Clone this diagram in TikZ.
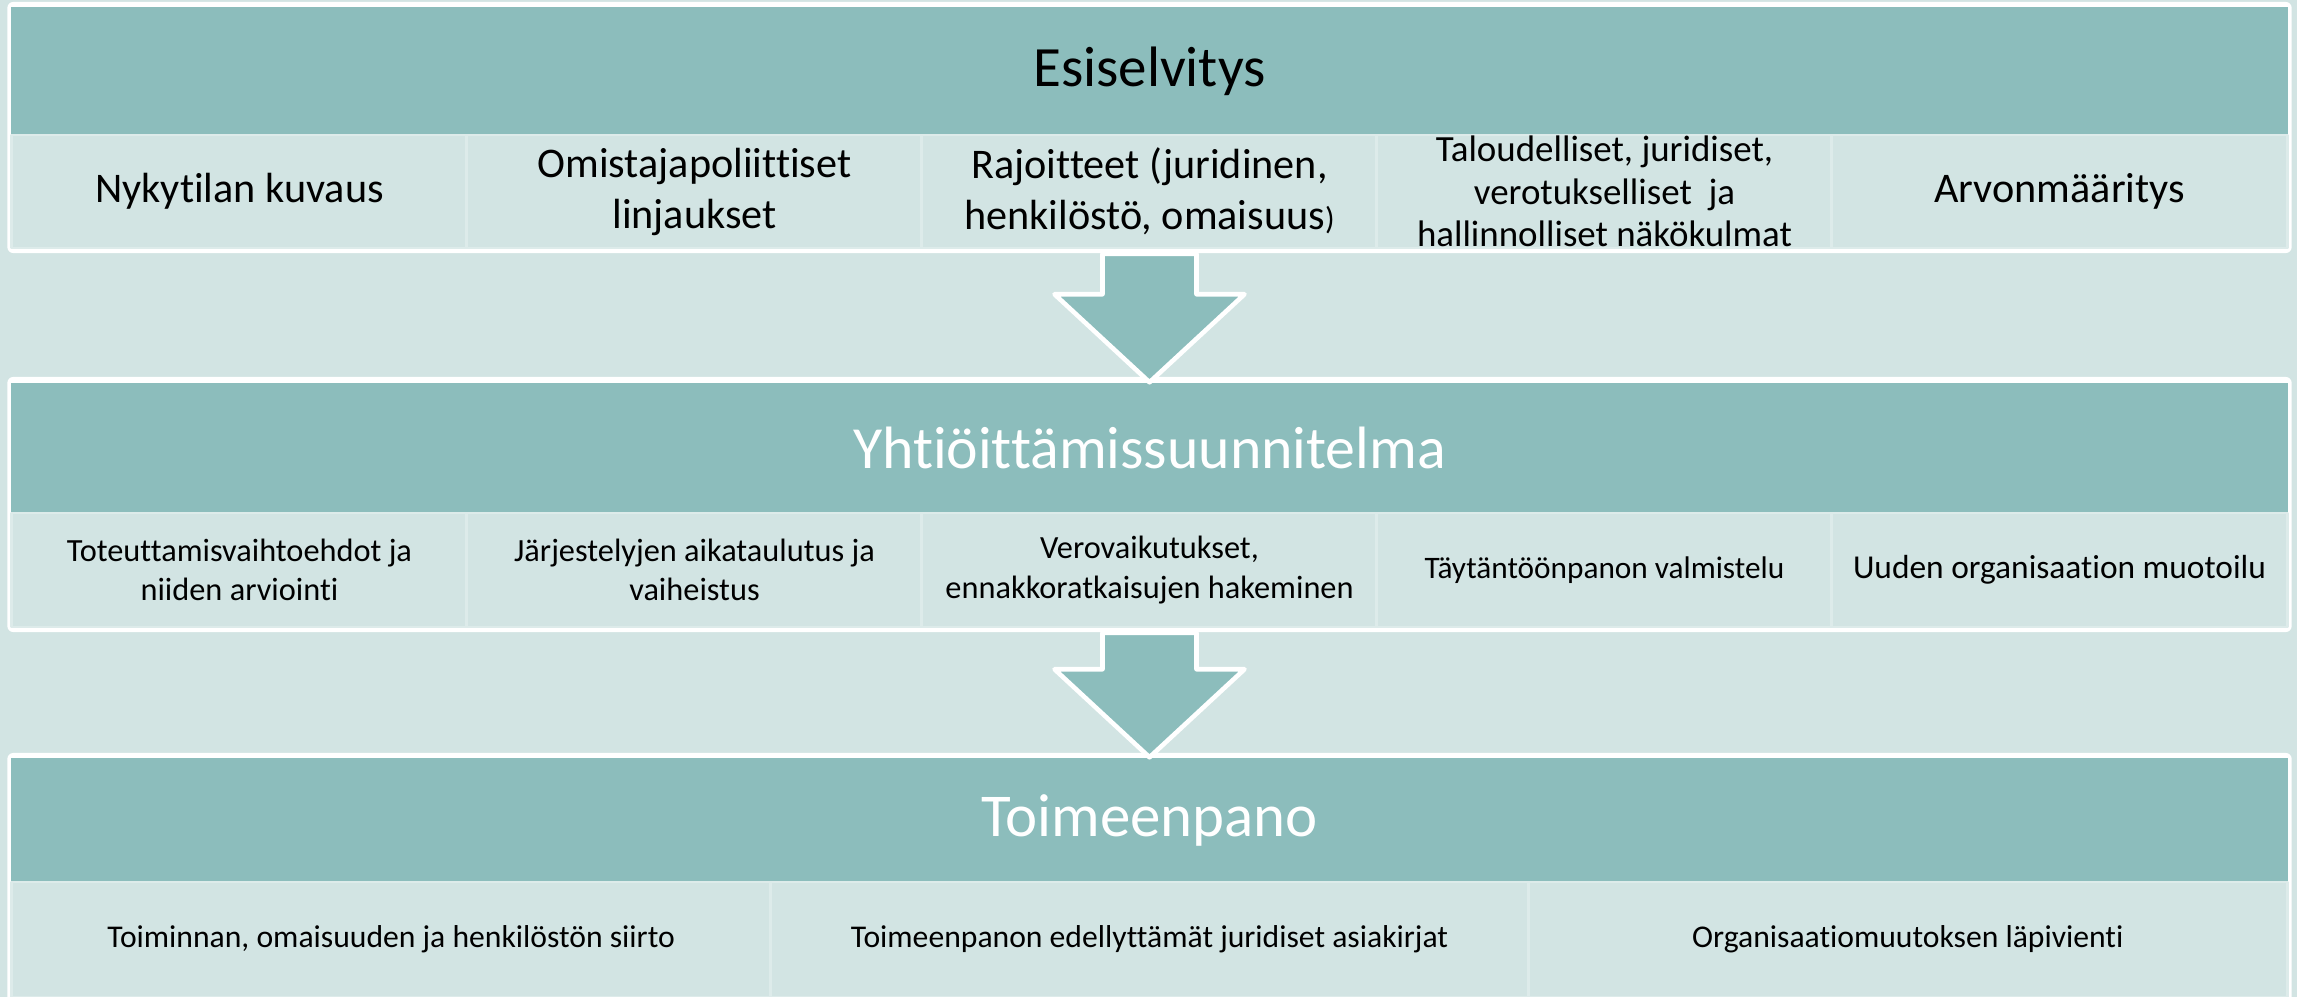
\documentclass[tikz,border=0pt]{standalone}
\usepackage{fontspec}
\setmainfont{Carlito}[Ligatures=NoCommon]
\usetikzlibrary{calc}

\definecolor{bgteal}{HTML}{D2E4E3}
\definecolor{headteal}{HTML}{8CBDBC}
\definecolor{cellline}{HTML}{DDEBEA}

\tikzset{
  frame/.style={fill=white, rounded corners=0.06cm, minimum width=22.83cm, inner sep=0},
  head/.style={fill=headteal, minimum width=22.75cm, inner sep=0, text=white,
    font=\fontsize{17}{20}\selectfont},
  cell/.style={fill=bgteal, draw=cellline, line width=0.8pt, inner sep=0, align=center,
    minimum width=4.55cm, minimum height=1.13cm, font=\fontsize{12}{14.5}\selectfont},
  subcell/.style={cell, minimum height=1.14cm, font=\fontsize{9.2}{11.2}\selectfont},
  widecell/.style={cell, minimum width=7.583cm, minimum height=1.15cm, font=\fontsize{9}{11}\selectfont},
  blockarrow/.style={fill=headteal, draw=white, line width=1.3pt}
}

% down arrow between two phases: #1 shaft top, #2 tip
\newcommand{\phasearrow}[2]{
  \draw[blockarrow] ($(#1)+(-47,0)$) -- ($(#2)+(-47,-88)$) -- ($(#2)+(-95,-88)$)
    -- (#2) -- ($(#2)+(95,-88)$) -- ($(#2)+(47,-88)$) -- ($(#1)+(47,0)$) -- cycle;
}

\begin{document}
\begin{tikzpicture}[x=0.01cm,y=-0.01cm,line join=round]
  \useasboundingbox (0,0) rectangle (2297,997);
  \clip (0,0) rectangle (2297,997);
  \fill[bgteal] (0,0) rectangle (2297,997);

  % Esiselvitys
  \node[frame, minimum height=2.51cm] (p1) at (1149.5,127.5) {};
  \node[head, minimum height=1.28cm, text=black, font=\fontsize{16.2}{19}\selectfont] (h1) at (1149.5,71) {Esiselvitys};
  \node[cell] (e1) at (239.5,191.5) {Nykytilan kuvaus};
  \node[cell] (e2) at (694.5,191.5) {Omistajapoliittiset\\linjaukset};
  \node[cell] (e3) at (1149.5,191.5) {Rajoitteet (juridinen,\\henkilöstö, omaisuus{\fontsize{9}{10}\selectfont)}};
  \node[cell, font=\fontsize{10.5}{12}\selectfont] (e4) at (1604.5,191.5)
    {Taloudelliset, juridiset,\\verotukselliset\ \ ja\\hallinnolliset näkökulmat};
  \node[cell] (e5) at (2059.5,191.5) {Arvonmääritys};

  % Yhtiöittämissuunnitelma
  \node[frame, minimum height=2.55cm] (p2) at (1149.5,504.5) {};
  \node[head, minimum height=1.30cm] (h2) at (1149.5,448) {Yhtiöittämissuunnitelma};
  \node[subcell] (y1) at (239.5,570) {Toteuttamisvaihtoehdot ja\\niiden arviointi};
  \node[subcell] (y2) at (694.5,570) {Järjestelyjen aikataulutus ja\\vaiheistus};
  \node[subcell] (y3) at (1149.5,570) {Verovaikutukset,\\ennakkoratkaisujen hakeminen};
  \node[subcell, font=\fontsize{8.9}{11}\selectfont] (y4) at (1604.5,570) {Täytäntöönpanon valmistelu};
  \node[subcell, font=\fontsize{9.5}{11}\selectfont] (y5) at (2059.5,570) {Uuden organisaation muotoilu};

  % Toimeenpano
  \node[frame, minimum height=2.50cm] (p3) at (1149.5,878) {};
  \node[head, minimum height=1.24cm, font=\fontsize{17.3}{20}\selectfont] (h3) at (1149.5,820) {Toimeenpano};
  \node[widecell] (t1) at (391.2,939.5) {Toiminnan, omaisuuden ja henkilöstön siirto};
  \node[widecell] (t2) at (1149.5,939.5) {Toimeenpanon edellyttämät juridiset asiakirjat};
  \node[widecell] (t3) at (1907.8,939.5) {Organisaatiomuutoksen läpivienti};

  \phasearrow{p1.south}{h2.north}
  \phasearrow{p2.south}{h3.north}
\end{tikzpicture}
\end{document}
